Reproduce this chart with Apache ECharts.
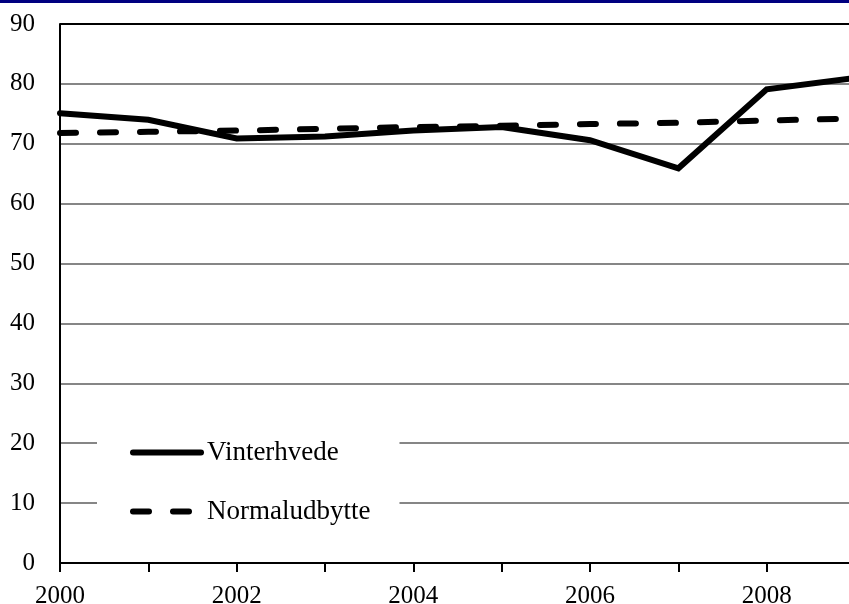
<!DOCTYPE html>
<html>
<head>
<meta charset="utf-8">
<script src="https://cdn.jsdelivr.net/npm/echarts@6/dist/echarts.min.js"></script>
<style>
  html, body { margin: 0; padding: 0; background: #fff; }
  #chart { width: 849px; height: 604px; }
</style>
</head>
<body>
<div id="chart"></div>
<script>
const years = [2000, 2001, 2002, 2003, 2004, 2005, 2006, 2007, 2008, 2009]
const vinterhvede = [75.1, 74.0, 70.9, 71.2, 72.2, 72.8, 70.6, 65.9, 79.1, 81.0]
const normaludbytte = [71.8, 72.0, 72.2, 72.5, 72.8, 73.0, 73.3, 73.5, 73.9, 74.2]
const yTicks = [0, 10, 20, 30, 40, 50, 60, 70, 80, 90]

const font = 'Liberation Serif'
const grey = '#868686'
const dash = [16, 24]

const chart = echarts.init(document.getElementById('chart'))

chart.setOption({
  animation: false,
  backgroundColor: '#fff',
  graphic: [{
    type: 'rect',
    shape: { x: 0, y: 0, width: 849, height: 3 },
    style: { fill: '#000080' },
    z: 100
  }],
  grid: { left: 60, top: 24, right: -6, bottom: 41, outerBoundsMode: 'none', containLabel: false },
  legend: {
    orient: 'vertical',
    left: 97,
    top: 419,
    backgroundColor: '#fff',
    padding: [20, 29, 20, 33],
    itemWidth: 68,
    itemHeight: 14,
    itemGap: 32,
    itemStyle: { opacity: 0 },
    textStyle: { fontFamily: font, fontSize: 27, color: '#000', padding: [0, 0, 0, 1] },
    data: [
      { name: 'Vinterhvede', lineStyle: { color: '#000', width: 6, type: 'solid', cap: 'round' } },
      { name: 'Normaludbytte', lineStyle: { color: '#000', width: 6, type: dash, cap: 'round' } }
    ],
    z: 10
  },
  xAxis: {
    type: 'value',
    min: 2000,
    max: 2009,
    interval: 1,
    axisLine: { lineStyle: { color: '#000', width: 2 } },
    axisTick: { show: true, length: 9, lineStyle: { color: '#000', width: 2 } },
    splitLine: { show: false },
    axisLabel: {
      fontFamily: font,
      fontSize: 25,
      color: '#000',
      margin: 21,
      formatter: v => (v % 2 === 0 ? String(v) : '')
    }
  },
  yAxis: {
    type: 'value',
    min: yTicks[0],
    max: yTicks[yTicks.length - 1],
    interval: 10,
    axisLine: { show: true, lineStyle: { color: '#000', width: 2 } },
    axisTick: { show: false },
    axisLabel: { fontFamily: font, fontSize: 25, color: '#000', margin: 25 },
    splitLine: {
      lineStyle: {
        width: 2,
        color: yTicks.map((t, i) => (i === yTicks.length - 1 ? '#000' : grey))
      }
    }
  },
  series: [
    {
      name: 'Vinterhvede',
      type: 'line',
      symbol: 'none',
      data: years.map((y, i) => [y, vinterhvede[i]]),
      lineStyle: { color: '#000', width: 6, cap: 'round', join: 'miter' },
      itemStyle: { color: '#000' },
      z: 3
    },
    {
      name: 'Normaludbytte',
      type: 'line',
      symbol: 'none',
      data: years.map((y, i) => [y, normaludbytte[i]]),
      lineStyle: { color: '#000', width: 6, type: dash, cap: 'round' },
      itemStyle: { color: '#000' },
      z: 2
    }
  ]
})
</script>
</body>
</html>
